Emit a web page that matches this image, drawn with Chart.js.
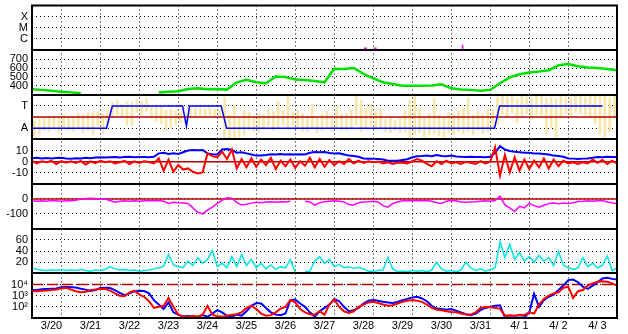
<!DOCTYPE html>
<html>
<head>
<meta charset="utf-8">
<script src="https://cdn.jsdelivr.net/npm/chart.js@4.4.1/dist/chart.umd.min.js"></script>
<style>
  html, body { margin: 0; padding: 0; background: #fff; }
  #wrap { position: relative; width: 628px; height: 334px; }
</style>
</head>
<body>
<div id="wrap"><canvas id="monitorChart" width="628" height="334"></canvas></div>
<script>
// x runs in days from 3/20 00:00, most series sampled every 3 hours
const dayLabels = ['3/20', '3/21', '3/22', '3/23', '3/24', '3/25', '3/26', '3/27', '3/28', '3/29', '3/30', '3/31', '4/ 1', '4/ 2', '4/ 3'];
const sampleStep = 0.125;
const loadStep = 0.25;

// Panel 1 - event flags
const flagTicks = [1, 2, 3];
const flagNames = ['C', 'M', 'X'];
const flagDays = [8.55, 8.8, 11.04];
const flagVals = [0.1, 0.1, 0.25];

// Panel 2 - load (green), every 6 hours
const loadTicks = [400, 500, 600, 700];
const loadVals = [362, 355, 344, 335, 327, 318, null, null, null, null, null, null, null,
  325, 333, 340, 365, 373, 362, 365, 358,
  440, 467, 440, 430, 505, 500, 470, 465, 455, 440,
  592, 590, 600, 535, 485, 440, 420, 402, 400, 402,
  405, 418, 372, 360, 355, 345, 355, 430, 495, 530,
  550, 560, 575, 630, 645, 620, 605, 600, 590, 575];

// Panel 3 - state A / T (blue step) and raw spread (yellow)
const stateTicks = [0, 2];
const stateNames = ['A', 'T'];
const stateMid = 1;
const stateDays = [0, 1.91, 2.06, 3.86, 3.96, 4.04, 4.85, 4.99, 11.86, 11.99, 14.63];
const stateVals = [0, 0, 2, 2, 0.2, 2, 2, 0, 0, 2, 2];
const spreadLo = [
  -0.7, -0.5, -0.2, -0.3, 0.0, -0.4, 0.1, -0.2,
  -0.3, 0.0, -0.4, -0.2, -0.6, 0.2, -0.5, 0.3,
  1.0, 1.2, 1.0, 0.3, 0.2, 1.4, 1.2, 1.5,
  1.0, 0.6, 0.4, -0.2, 0.0, 0.3, 0.5, 0.3,
  1.0, 1.1, 1.2, 1.1, 1.2, 1.1, 1.0, -0.9,
  -1.0, -0.9, -0.8, -0.6, -0.2, -0.3, -0.4, 0.0,
  0.2, -0.2, 0.0, 0.3, -0.1, 0.2, 0.0, -0.3,
  -0.3, 0.0, -0.4, -0.2, 0.1, -0.3, 0.0, -0.2,
  -0.2, 0.0, 0.3, -0.3, 0.0, 0.2, -0.2, 0.1,
  -0.3, -0.4, -0.2, -0.4, -0.3, -0.8, -0.5, -0.4,
  -0.8, -0.6, -0.5, -0.7, -0.8, -0.4, -0.6, -0.3,
  -0.5, -0.3, -0.6, -0.2, -0.5, -0.3, -0.1, 0.3,
  1.3, 1.0, 1.4, 0.5, 1.2, 1.3, 0.8, 1.2,
  1.2, -0.6, 0.0, -0.8, 1.0, 1.3, 1.1, 1.4,
  1.3, 1.2, 1.0, 0.4, -0.5, -0.8, -0.3, 0.9];
const spreadHi = [
  0.7, 0.8, 0.9, 1.0, 1.1, 1.0, 1.2, 1.0,
  1.1, 1.3, 1.2, 1.4, 1.5, 1.5, 1.3, 1.6,
  2.3, 2.5, 2.2, 2.4, 2.3, 2.6, 2.4, 2.7,
  2.0, 1.9, 2.0, 1.6, 1.7, 1.6, 1.4, 1.2,
  1.7, 1.8, 1.8, 1.7, 1.8, 1.7, 1.6, 2.8,
  1.2, 2.0, 1.0, 1.6, 1.4, 1.0, 1.3, 1.2,
  1.8, 1.5, 2.4, 1.6, 2.9, 1.4, 1.6, 1.3,
  1.1, 2.2, 1.0, 1.3, 1.5, 1.0, 2.0, 1.2,
  1.3, 1.6, 2.9, 2.5, 1.8, 2.2, 1.5, 1.7,
  0.8, 0.9, 0.7, 1.0, 1.6, 2.5, 2.9, 1.8,
  1.0, 1.3, 2.7, 1.2, 1.0, 1.4, 1.2, 1.6,
  1.8, 2.7, 1.2, 1.5, 1.3, 1.8, 1.6, 2.8,
  2.9, 2.8, 2.9, 2.6, 2.9, 2.8, 2.7, 2.9,
  2.9, 2.7, 2.8, 2.6, 2.9, 2.8, 2.7, 2.9,
  2.9, 2.8, 2.9, 2.9, 2.8, 2.9, 2.7, 2.9];

// Panel 4 - swing, blue upper and red lower
const swingTicks = [-10, 0, 10];
const swingBlue = [3.2, 3.5, 3.0, 3.3, 3.0, 3.3, 3.5, 3.0, 2.8, 3.2, 3.0, 3.5, 3.2, 3.8, 4.0, 3.8,
  4.0, 4.2, 3.8, 4.2, 4.5, 4.0, 4.3, 4.2, 4.0, 4.5,
  7.5, 8.0, 7.0, 7.5, 7.0, 8.5, 10.0, 10.5, 10.2, 10.5,
  7.5, 6.7, 6.5, 11.0, 11.5, 10.5, 8.0, 8.5, 7.5, 6.5,
  5.5, 5.5, 6.0, 6.7, 6.5, 7.0, 6.5, 6.7, 6.5, 6.7,
  6.5, 8.0, 8.8, 8.5, 8.8, 7.8, 7.5, 7.6, 6.5, 5.5,
  5.2, 4.5, 3.0, 2.8, 2.8, 2.5, 2.0, 1.0, 0.8, 0.8,
  1.5, 2.2, 4.0, 5.0, 5.2, 5.5, 5.0, 6.0, 5.2, 5.0,
  5.5, 4.8, 4.5, 4.3, 4.5, 4.2, 4.3, 4.0, 4.5, 8.0,
  14.0, 11.0, 9.6, 9.0, 8.5, 8.0, 8.0, 7.5, 7.3, 7.0,
  6.5, 5.5, 5.2, 4.5, 3.0, 2.8, 2.5, 2.8, 3.0, 3.5,
  4.3, 4.0, 4.5, 4.3, 4.3];
const swingRed = [0.8, -1.5, 0.5, -0.5, 0.8, -2.0, 0.5, -0.8, 0.5, -1.0, 0.8, -2.5, 0.3, -1.2, 0.8, -0.5,
  0.5, -1.5, -0.5, 0.8, -2.0, 0.3, -1.0, 0.5, -0.3, -1.5,
  3.0, -8.0, 2.0, -9.0, -3.0, -7.0, -6.0, -9.0, -10.5, -9.5,
  7.5, 5.0, 4.0, 9.0, 2.5, 11.0, -6.0, 2.5, -5.0, 3.0,
  -4.5, 2.0, -3.0, 3.5, -6.5, 1.0, -4.0, 2.0, -5.5, 0.5,
  -3.5, 3.5, -5.0, 2.5, -4.5, 1.5, -3.0, 0.5, -2.0, 2.5,
  -1.5, 1.0, -1.0, 0.5, -0.5, 0.3, -1.5, -0.5, -2.0, -1.0,
  -0.8, -1.5, 0.5, 2.5, 1.0, -2.0, -4.0, 0.5, -2.0, 1.0,
  -1.5, -0.5, -2.0, 0.0, -1.0, -2.0, 0.5, -1.5, 0.0, 13.0,
  -12.5, 6.0, -9.5, 4.0, -8.0, 2.0, -6.5, 1.0, -5.0, 3.0,
  -6.0, 2.0, -4.0, 1.0, -1.5, -0.5, -2.0, -0.5, -1.5, 2.0,
  -1.0, 1.5, -2.0, 1.0, -1.5];

// Panel 5 - drift (magenta)
const driftTicks = [-100, 0];
const driftVals = [-12, -15, -12, -15, -10, -12, -15, -12, -12, -8, 0, 3, 5, 3, 2, 0,
  -10, -22, -15, -12, -15, -12, -15, -12, -12, -12,
  -10, -15, -30, -22, -25, -27, -30, -60, -90, -100,
  -75, -55, -30, -10, 8, 5, -25, -40, -35, -28,
  -22, -25, -20, -18, -22, -18, -20, -15, null, null,
  -15, -20, -42, -25, -18, -15, -12, -15, -20, -38,
  -40, -25, -20, -18, -15, -20, -45, -55, -30, -20,
  -12, -10, -12, -10, -12, -10, -15, -25, -30, -15,
  -10, -12, -20, -22, -20, -18, -15, -12, -15, -10,
  18, -40, -60, -85, -50, -60, -30, -45, -55, -42,
  -30, -28, -33, -27, -30, -25, -17, -15, -12, -15,
  -12, -11, -20, -25, -33];

// Panel 6 - rate (cyan)
const rateTicks = [20, 40, 60];
const rateVals = [10, 7, 6, 5, 6, 5, 7, 5, 6, 5, 7, 5, 4, 6, 5, 7,
  12, 8, 6, 7, 5, 6, 4, 5, 6, 8,
  10, 13, 34, 15, 12, 10, 22, 14, 28, 18,
  25, 41, 12, 18, 10, 30, 12, 34, 14, 25,
  10, 18, 8, 15, 7, 12, 10, 25, 2, null,
  3, 4, 22, 30, 18, 25, 12, 16, 10, 12,
  9, 11, 8, 4, 4, 5, 6, 29, 8, 3,
  4, 3, 5, 4, 5, 3, 6, 20, 8, 4,
  5, 3, 6, 20, 10, 5, 8, 4, 7, 10,
  57, 28, 52, 25, 37, 22, 30, 20, 32, 22,
  28, 14, 39, 15, 10, 7, 10, 28, 12, 18,
  10, 14, 31, 5, 10];

// Panel 7 - counts on a log scale
const countTicks = [100, 1000, 10000];
const countNames = ['10\u00B2', '10\u00B3', '10\u2074'];
const countLimit = 10000;
const countBlue = [3300, 3300, 3800, 4000, 4200, 4500, 5600, 6000, 5700, 5500, 4200, 3500, 2600, 3200, 4800, 5200,
  4800, 3200, 1800, 1100, 1600, 2500, 2800, 2600, 1600, 400,
  160, 63, 250, 32, 20, 13, 16, 11, 13, 18,
  13, 25, 50, 32, 16, 13, 20, 16, 40, 125,
  220, 200, 80, 32, 20, 18, 25, 400, 450, 200,
  100, 32, 13, 40, 80, 160, 500, 320, 100, 40,
  50, 80, 200, 350, 400, 350, 280, 250, 220, 280,
  400, 520, 700, 800, 560, 320, 125, 70, 63, 56,
  63, 45, 32, 22, 18, 25, 50, 80, 100, 125,
  140, 11, 11, 11, 11, 11, 32, 1500, 100, 400,
  800, 1260, 3200, 8000, 25000, 28000, 16000, 6300, 4000, 8000,
  16000, 35000, 40000, 32000, 28000];
const countRed = [2500, 2500, 2800, 2900, 3200, 3500, 4500, 5000, 3500, 2500, 2000, 2200, 3200, 3500, 4000, 4200,
  2800, 1600, 1000, 900, 2000, 2800, 1260, 800, 320, 80,
  100, 125, 630, 100, 20, 14, 13, 16, 13, 20,
  125, 20, 14, 13, 16, 20, 22, 32, 80, 125,
  63, 25, 16, 18, 32, 70, 100, 400, 250, 63,
  32, 22, 20, 40, 20, 160, 450, 100, 40, 28,
  40, 100, 160, 250, 280, 220, 160, 125, 140, 200,
  280, 350, 400, 350, 280, 160, 80, 56, 50, 40,
  35, 32, 25, 22, 20, 32, 80, 100, 90, 80,
  70, 16, 18, 16, 20, 18, 32, 25, 160, 500,
  1000, 1600, 2000, 5000, 6300, 630, 2500, 3200, 8000, 12600,
  18000, 20000, 18000, 12600, 8000];

const dayCount = dayLabels.length;
const BLUE = '#0000ff';
const RED = '#ff0000';
const DARK_RED = '#b40000';

Chart.defaults.font.family = "'Liberation Sans', 'DejaVu Sans', sans-serif";
Chart.defaults.font.size = 11;
Chart.defaults.color = '#000';

const series = (vals, step) => vals.map((v, i) => ({ x: i * step, y: v }));
const flat = (v) => [{ x: 0, y: v }, { x: dayCount, y: v }];

// labels sit inside the panels, so no extra edge padding is wanted
function noEdgePadding(s) {
  s.paddingTop = 0;
  s.paddingBottom = 0;
  s.paddingLeft = 0;
  s.paddingRight = 0;
}

// one stacked y axis per panel
function panelAxis(weight, min, max, tickVals, names, type) {
  return {
    type: type || 'linear',
    position: 'left',
    stack: 'panels',
    stackWeight: 1,
    weight: weight,
    min: min,
    max: max,
    afterFit: (s) => { s.width = 32; noEdgePadding(s); },
    afterBuildTicks: (s) => { s.ticks = tickVals.map(v => ({ value: v })); },
    ticks: {
      padding: 4,
      autoSkip: false,
      callback: (value) => names ? names[tickVals.indexOf(value)] : value
    },
    grid: { color: '#000', lineWidth: 1, drawTicks: false },
    border: { display: false, dash: [1, 3] }
  };
}

const panelIds = ['yFlag', 'yLoad', 'yState', 'ySwing', 'yDrift', 'yRate', 'yCount'];

// separators between panels and the outer frame
const panelFrame = {
  id: 'panelFrame',
  afterDatasetsDraw(chart) {
    const { ctx, chartArea: a } = chart;
    ctx.save();
    ctx.strokeStyle = '#000';
    ctx.lineWidth = 2;
    panelIds.slice(1).forEach(id => {
      const y = Math.round(chart.scales[id].top);
      ctx.beginPath();
      ctx.moveTo(a.left, y);
      ctx.lineTo(a.right, y);
      ctx.stroke();
    });
    ctx.strokeRect(a.left, a.top, a.right - a.left, a.bottom - a.top);
    ctx.restore();
  }
};

const xTicks = [];
for (let k = 0; k <= dayCount * 2; k++) xTicks.push(k / 2);

const lineDefaults = { type: 'line', pointRadius: 0, tension: 0, fill: false };

new Chart(document.getElementById('monitorChart'), {
  type: 'line',
  data: {
    datasets: [
      {
        ...lineDefaults, yAxisID: 'yFlag', order: 1,
        data: flagDays.map((d, i) => ({ x: d, y: flagVals[i] })),
        showLine: false,
        pointStyle: ['rect', 'rect', 'line'],
        pointRotation: [0, 0, 90],
        pointRadius: [1, 1, 2.5],
        borderColor: '#ff00ff', backgroundColor: '#ff00ff', borderWidth: 1.5
      },
      {
        ...lineDefaults, yAxisID: 'yLoad', order: 1,
        data: series(loadVals, loadStep),
        borderColor: '#00e000', borderWidth: 2.5
      },
      {
        type: 'bar', yAxisID: 'yState', order: 20,
        data: spreadLo.map((lo, i) => ({ x: (i + 0.5) * sampleStep, y: [lo, spreadHi[i]] })),
        backgroundColor: '#f8e7aa',
        barThickness: 2, grouped: false, borderWidth: 0
      },
      {
        ...lineDefaults, yAxisID: 'yState', order: 5,
        data: flat(stateMid),
        borderColor: DARK_RED, borderWidth: 1.5
      },
      {
        ...lineDefaults, yAxisID: 'yState', order: 1,
        data: stateDays.map((d, i) => ({ x: d, y: stateVals[i] })),
        borderColor: BLUE, borderWidth: 1.5
      },
      {
        ...lineDefaults, yAxisID: 'ySwing', order: 6,
        data: flat(0),
        borderColor: DARK_RED, borderWidth: 1.5
      },
      {
        ...lineDefaults, yAxisID: 'ySwing', order: 3,
        data: series(swingBlue, sampleStep),
        borderColor: BLUE, borderWidth: 2
      },
      {
        ...lineDefaults, yAxisID: 'ySwing', order: 2,
        data: series(swingRed, sampleStep),
        borderColor: RED, borderWidth: 2
      },
      {
        ...lineDefaults, yAxisID: 'yDrift', order: 6,
        data: flat(0),
        borderColor: DARK_RED, borderWidth: 1.5
      },
      {
        ...lineDefaults, yAxisID: 'yDrift', order: 2,
        data: series(driftVals, sampleStep),
        borderColor: '#ff00ff', borderWidth: 1.5
      },
      {
        ...lineDefaults, yAxisID: 'yRate', order: 2,
        data: series(rateVals, sampleStep),
        borderColor: '#00e6e6', borderWidth: 1.5
      },
      {
        ...lineDefaults, yAxisID: 'yCount', order: 6,
        data: flat(countLimit),
        borderColor: DARK_RED, borderWidth: 1.5, borderDash: [11, 4]
      },
      {
        ...lineDefaults, yAxisID: 'yCount', order: 3,
        data: series(countBlue, sampleStep),
        borderColor: BLUE, borderWidth: 2
      },
      {
        ...lineDefaults, yAxisID: 'yCount', order: 2,
        data: series(countRed, sampleStep),
        borderColor: RED, borderWidth: 2
      }
    ]
  },
  options: {
    responsive: false,
    animation: false,
    events: [],
    layout: { padding: { top: 3, right: 11, bottom: 0, left: 0 } },
    plugins: { legend: { display: false }, tooltip: { enabled: false } },
    scales: {
      x: {
        type: 'linear',
        min: 0,
        max: dayCount,
        offset: false,
        afterFit: (s) => { s.height = 16; noEdgePadding(s); },
        afterBuildTicks: (s) => { s.ticks = xTicks.map(v => ({ value: v })); },
        ticks: {
          autoSkip: false,
          maxRotation: 0,
          padding: 1,
          callback: (value) => (value % 1 === 0.5) ? dayLabels[Math.floor(value)] : ''
        },
        grid: {
          drawTicks: false,
          lineWidth: 1,
          color: (c) => (c.tick && Number.isInteger(c.tick.value) && c.tick.value > 0 && c.tick.value < dayCount) ? '#000' : 'rgba(0,0,0,0)'
        },
        border: { display: false, dash: [1, 3] }
      },
      // defined bottom to top so the stack reads top to bottom
      yCount: panelAxis(1, 10, 100000, countTicks, countNames, 'logarithmic'),
      yRate: panelAxis(2, 0, 80, rateTicks),
      yDrift: panelAxis(3, -200, 100, driftTicks),
      ySwing: panelAxis(4, -20, 20, swingTicks),
      yState: panelAxis(5, -1, 3, stateTicks, stateNames),
      yLoad: panelAxis(6, 300, 800, loadTicks),
      yFlag: panelAxis(7, 0, 4, flagTicks, flagNames)
    }
  },
  plugins: [panelFrame]
});
</script>
</body>
</html>
